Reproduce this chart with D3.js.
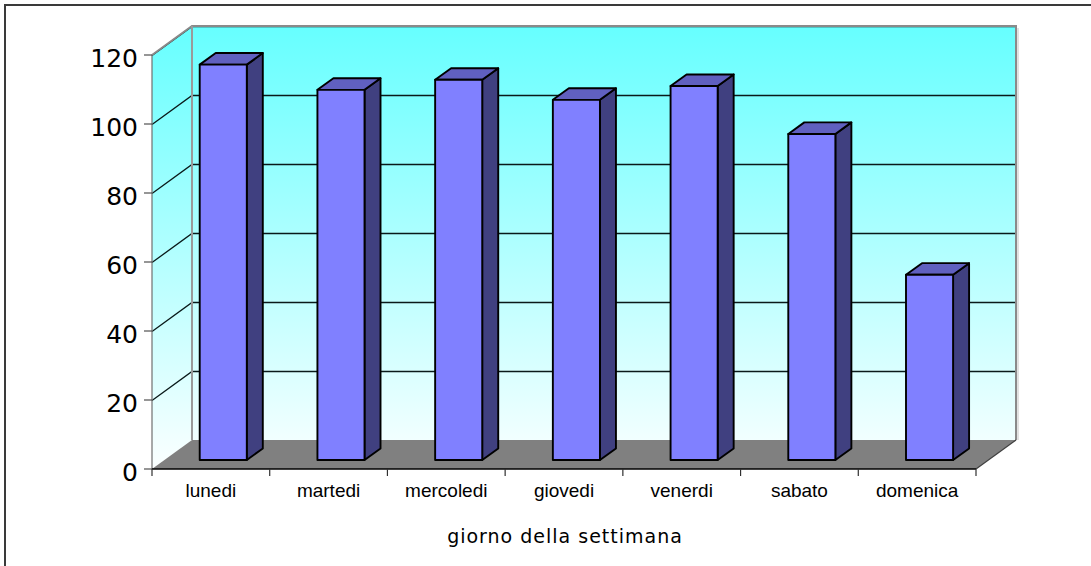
<!DOCTYPE html>
<html><head><meta charset="utf-8">
<script src="https://cdn.jsdelivr.net/npm/d3@7"></script>
<style>body{margin:0;background:#fff}svg{display:block}</style>
</head><body>
<svg id="c" width="1091" height="566"></svg>
<script>
const categories = ["lunedi","martedi","mercoledi","giovedi","venerdi","sabato","domenica"];
const values = [114.6, 107.3, 110.2, 104.4, 108.4, 94.5, 53.7];
const yTicks = [0, 20, 40, 60, 80, 100, 120];
const xTitle = "giorno della settimana";

const svg = d3.select("#c");
const X0 = 152, X1 = 976, Y0 = 469, Y1 = 55;
const DX = 40, DY = -29;           // depth offset to back wall
const t1 = 0.31, t2 = 0.71;        // bar front/back depth fractions

const x = d3.scaleBand().domain(categories).range([X0, X1]).paddingInner(0.6).paddingOuter(0.3);
const y = d3.scaleLinear().domain([0, 120]).range([Y0, Y1]);
const step = x.step();

// outer frame
svg.append("rect").attr("x",5).attr("y",5).attr("width",1200).attr("height",700)
  .attr("fill","none").attr("stroke","#3a3a3a").attr("stroke-width",2);

const defs = svg.append("defs");
const g = defs.append("linearGradient").attr("id","wall").attr("gradientUnits","userSpaceOnUse")
  .attr("x1",0).attr("y1",y(120)+DY).attr("x2",0).attr("y2",y(0));
g.append("stop").attr("offset","0").attr("stop-color","#66ffff");
g.append("stop").attr("offset","0.5").attr("stop-color","#b0ffff");
g.append("stop").attr("offset","1").attr("stop-color","#fbffff");

const line = d3.line();
// back wall
svg.append("path").attr("d", line([[X0+DX,y(120)+DY],[X1+DX,y(120)+DY],[X1+DX,y(0)+DY],[X0+DX,y(0)+DY]])+"Z")
  .attr("fill","url(#wall)").attr("stroke","none");
// left wall
svg.append("path").attr("d", line([[X0,y(120)],[X0+DX,y(120)+DY],[X0+DX,y(0)+DY],[X0,y(0)]])+"Z")
  .attr("fill","url(#wall)").attr("stroke","none");
// floor
svg.append("path").attr("d", line([[X0,y(0)],[X0+DX,y(0)+DY],[X1+DX,y(0)+DY],[X1,y(0)]])+"Z")
  .attr("fill","#808080").attr("stroke","none");

// gridlines
yTicks.filter(v => v > 0).forEach(v => {
  const yy = Math.round(y(v)+DY) + 0.5;
  svg.append("path").attr("d", line([[X0,yy-DY],[X0+DX,yy],[X1+DX,yy]]))
    .attr("fill","none").attr("stroke","#0a1a1a").attr("stroke-width",1.3);
});
// wall edges
svg.append("path").attr("d", line([[X0,y(120)],[X0+DX,y(120)+DY],[X1+DX,y(120)+DY],[X1+DX,y(0)+DY]]))
  .attr("fill","none").attr("stroke","#8a8a8a").attr("stroke-width",2);
svg.append("path").attr("d", line([[X1+DX+2,y(120)+DY+2],[X1+DX+2,y(0)+DY]]))
  .attr("fill","none").attr("stroke","#d8d8d8").attr("stroke-width",1.5);
svg.append("path").attr("d", line([[X0+DX,y(120)+DY],[X0+DX,y(0)+DY]]))
  .attr("fill","none").attr("stroke","#9a9a9a").attr("stroke-width",2);
svg.append("path").attr("d", line([[X1,y(0)],[X1+DX,y(0)+DY]]))
  .attr("fill","none").attr("stroke","#404040").attr("stroke-width",1.2);

// bars
const ox1 = DX*t1, oy1 = DY*t1, ox2 = DX*t2, oy2 = DY*t2;
categories.forEach((c, i) => {
  const xl = x(c), xr = x(c) + x.bandwidth(), yt = y(values[i]), yb = y(0);
  const grp = svg.append("g").attr("stroke","#000").attr("stroke-width",1.9).attr("stroke-linejoin","round");
  grp.append("path").attr("d", line([[xr+ox1,yt+oy1],[xr+ox2,yt+oy2],[xr+ox2,yb+oy2],[xr+ox1,yb+oy1]])+"Z").attr("fill","#404080");
  grp.append("path").attr("d", line([[xl+ox1,yt+oy1],[xl+ox2,yt+oy2],[xr+ox2,yt+oy2],[xr+ox1,yt+oy1]])+"Z").attr("fill","#6060c0");
  grp.append("path").attr("d", line([[xl+ox1,yt+oy1],[xr+ox1,yt+oy1],[xr+ox1,yb+oy1],[xl+ox1,yb+oy1]])+"Z").attr("fill","#8080ff");
});

// y axis
svg.append("line").attr("x1",X0).attr("x2",X0).attr("y1",y(120)).attr("y2",y(0)).attr("stroke","#707070").attr("stroke-width",1.2);
const yAxis = svg.append("g");
yTicks.forEach(v => {
  yAxis.append("line").attr("x1",X0-8).attr("x2",X0).attr("y1",y(v)).attr("y2",y(v)).attr("stroke","#505050").attr("stroke-width",1.2);
  yAxis.append("text").attr("x",138).attr("y",y(v)+12).attr("text-anchor","end")
    .attr("font-family","'DejaVu Sans', Verdana, sans-serif").attr("font-size",25).attr("fill","#000").text(v);
});

// x axis
svg.append("line").attr("x1",X0).attr("x2",X1).attr("y1",y(0)).attr("y2",y(0)).attr("stroke","#000").attr("stroke-width",1.6);
d3.range(categories.length+1).forEach(k => {
  const xx = X0 + k*step;
  svg.append("line").attr("x1",xx).attr("x2",xx).attr("y1",y(0)).attr("y2",y(0)+7).attr("stroke","#303030").attr("stroke-width",1.2);
});
categories.forEach(c => {
  svg.append("text").attr("x", x(c)+x.bandwidth()/2).attr("y",497).attr("text-anchor","middle")
    .attr("font-family","'Liberation Sans', Arial, sans-serif").attr("font-size",19).attr("fill","#000").text(c);
});
svg.append("text").attr("x",(X0+X1)/2+1).attr("y",543).attr("text-anchor","middle")
  .attr("font-family","'DejaVu Sans', Verdana, sans-serif").attr("font-size",19).attr("letter-spacing","1px")
  .attr("fill","#000").text(xTitle);
</script>
</body></html>
